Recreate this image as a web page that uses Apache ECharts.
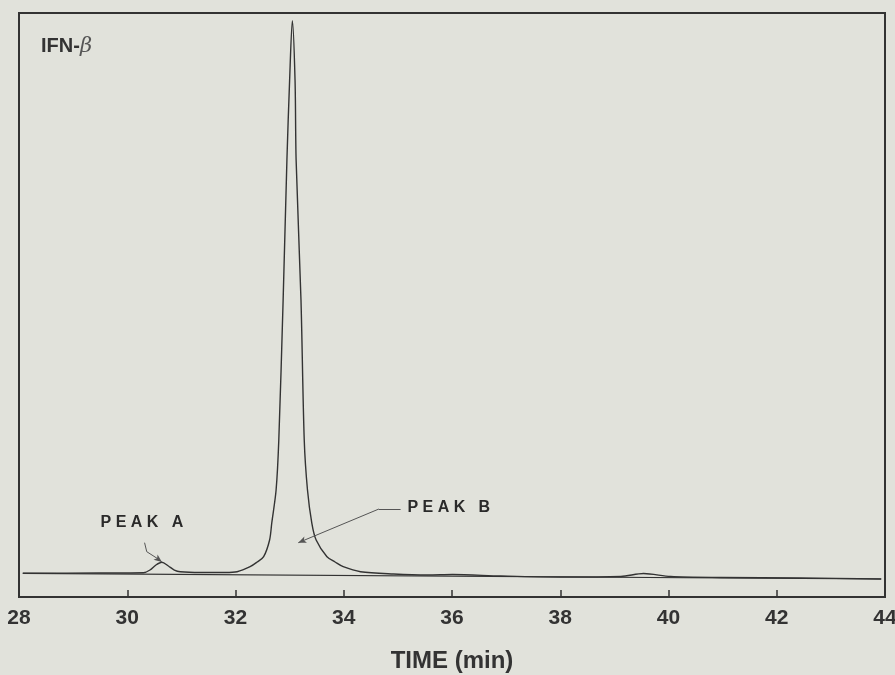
<!DOCTYPE html>
<html>
<head>
<meta charset="utf-8">
<script src="https://cdn.jsdelivr.net/npm/echarts@6/dist/echarts.min.js"></script>
<style>
html,body{margin:0;padding:0;background:#e1e2db;}
#chart{width:895px;height:675px;}
</style>
</head>
<body>
<div id="chart"></div>
<script>
// ---- data ----
const xTicks = [28, 30, 32, 34, 36, 38, 40, 42, 44];
const xTickLabels = ['28', '30', '32', '34', '36', '38', '40', '42', '44'];
const traceTime = [28.07, 29.50, 30.30, 30.42, 30.53, 30.64, 30.76, 30.87, 30.98, 31.35, 31.81, 32.03, 32.27, 32.40, 32.52, 32.63, 32.67, 32.75, 32.80, 32.88, 32.95, 33.00, 33.05, 33.10, 33.12, 33.21, 33.27, 33.33, 33.41, 33.49, 33.69, 33.84, 33.99, 34.31, 34.92, 35.55, 36.01, 36.90, 38.01, 39.12, 39.54, 40.04, 40.97, 42.45, 43.93];
const traceSignal = [4.06, 4.11, 4.16, 4.62, 5.48, 5.94, 5.31, 4.62, 4.33, 4.20, 4.20, 4.33, 5.19, 5.99, 6.90, 9.76, 12.67, 18.32, 26.88, 50.86, 74.83, 88.53, 98.68, 88.53, 74.83, 50.86, 26.88, 18.32, 12.67, 9.76, 6.90, 5.99, 5.19, 4.33, 3.94, 3.77, 3.85, 3.60, 3.42, 3.51, 4.02, 3.51, 3.34, 3.25, 3.08];
const baseTime = [28.07, 43.93];
const baseSignal = [4.06, 3.08];
const peakNames = ['PEAK A', 'PEAK B'];
const peakLabelTime = [30.27, 35.94];
const peakLabelSignal = [12.76, 15.36];
const leaderA = [[30.32, 9.30], [30.36, 7.76], [30.55, 6.63], [30.64, 5.99]];
const leaderB = [[35.05, 15.07], [34.65, 15.07], [33.16, 9.30]];
const sampleName = 'IFN-';
const sampleGreek = 'β';
const axisTitle = 'TIME (min)';

const ink = '#333333';
const FONT = '"Liberation Sans", Arial, Helvetica, sans-serif';

function leaderSegments(pts) {
  const segs = [];
  for (let i = 0; i < pts.length - 1; i++) {
    const last = i === pts.length - 2;
    segs.push([
      { coord: pts[i], symbol: 'none' },
      { coord: pts[i + 1], symbol: last ? 'arrow' : 'none', symbolSize: last ? [5, 8] : 0 }
    ]);
  }
  return segs;
}

const chart = echarts.init(document.getElementById('chart'), null, { renderer: 'canvas' });
chart.setOption({
  backgroundColor: '#e1e2db',
  animation: false,
  title: {
    left: 36, top: 31,
    text: '{a|' + sampleName + '}{b|' + sampleGreek + '}',
    textStyle: {
      rich: {
        a: { fontFamily: FONT, fontWeight: 'bold', fontSize: 20, color: ink },
        b: { fontFamily: '"DejaVu Serif", serif', fontStyle: 'italic', fontWeight: 'normal', fontSize: 21, color: '#555' }
      }
    }
  },
  grid: {
    left: 19, right: 10, top: 13, bottom: 78,
    outerBoundsMode: 'none', containLabel: false,
    show: true, borderColor: ink, borderWidth: 2, backgroundColor: 'transparent'
  },
  xAxis: {
    type: 'value', min: 28, max: 44, interval: 2,
    axisLine: { show: true, lineStyle: { color: ink, width: 2 } },
    axisTick: { show: true, inside: true, length: 7, lineStyle: { color: ink, width: 1.5 } },
    axisLabel: {
      margin: 11, fontFamily: FONT, fontWeight: 'bold', fontSize: 21, color: ink,
      hideOverlap: false,
      formatter: v => { const i = xTicks.indexOf(v); return i >= 0 ? xTickLabels[i] : ''; }
    },
    splitLine: { show: false },
    name: axisTitle, nameLocation: 'middle', nameGap: 52,
    nameTextStyle: { fontFamily: FONT, fontWeight: 'bold', fontSize: 24, color: ink }
  },
  yAxis: {
    type: 'value', min: 0, max: 100, show: false, splitLine: { show: false }
  },
  series: [
    {
      type: 'line', name: 'baseline',
      data: baseTime.map((t, i) => [t, baseSignal[i]]),
      showSymbol: false, silent: true,
      lineStyle: { color: ink, width: 1.2 }
    },
    {
      type: 'line', name: 'trace',
      data: traceTime.map((t, i) => [t, traceSignal[i]]),
      showSymbol: false, smooth: 0.3,
      lineStyle: { color: ink, width: 1.4, join: 'round' },
      markLine: {
        silent: true, animation: false,
        label: { show: false },
        lineStyle: { color: '#555', width: 1, type: 'solid' },
        data: leaderSegments(leaderA).concat(leaderSegments(leaderB))
      }
    },
    {
      type: 'scatter', name: 'labels',
      symbolSize: 0, silent: true,
      itemStyle: { color: ink, opacity: 1 },
      data: peakNames.map((n, i) => ({ value: [peakLabelTime[i], peakLabelSignal[i]], name: n })),
      label: {
        show: true, position: 'inside',
        fontFamily: FONT, fontWeight: 'bold', fontSize: 16, color: '#2a2a2a',
        formatter: p => p.name.split('').join(' ')
      }
    }
  ]
});
</script>
</body>
</html>
